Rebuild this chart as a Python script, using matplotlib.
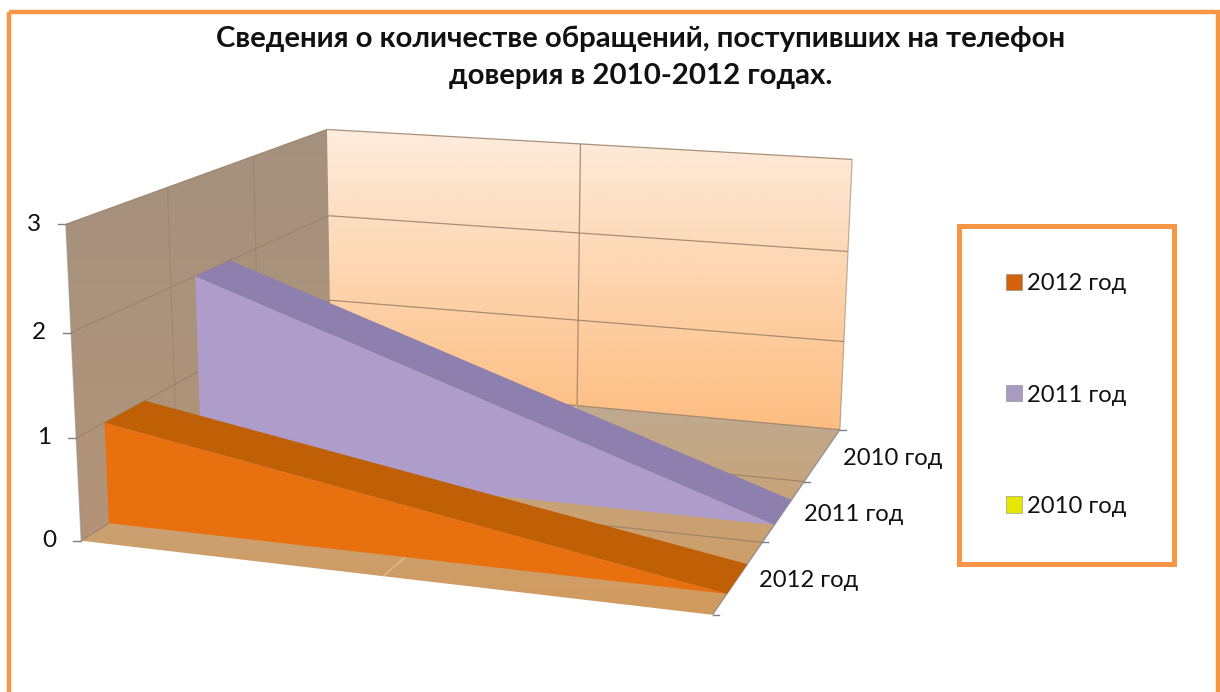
import numpy as np
import matplotlib
matplotlib.use("Agg")
import matplotlib.pyplot as plt
from matplotlib.patches import Polygon, Patch, Rectangle
from matplotlib.colors import LinearSegmentedColormap

title = "Сведения о количестве обращений, поступивших на телефон\nдоверия в 2010-2012 годах."
series_names = ["2012 год", "2011 год", "2010 год"]
values_2012 = [1, 0]
values_2011 = [2, 0]
values_2010 = [0, 0]
z_ticks = [0, 1, 2, 3]
legend_order = ["2012 год", "2011 год", "2010 год"]

front_colors = ["#E8700F", "#AE9CCA", "#E8E800"]
top_colors = ["#BF5F06", "#8E80AE", "#B8B800"]
legend_colors = ["#D2620C", "#A99BC0", "#E6E600"]
frame_color = "#F79646"
grid_color = "#9A8068"

# how much of its depth slot each slab takes
slab_start = 0.27
slab_end = 0.68

W, H = 1220, 692
plt.rcParams["font.family"] = ["Lato", "DejaVu Sans"]

# box points read off the canvas, used to fit the camera of the 3d view
# (x along the front, y going back, z up)
box = np.array([[0, 0, 0], [0, 0, 3], [0, 1, 0], [0, 1, 3], [1, 1, 0], [1, 1, 3], [1, 0, 0],
                [0.5, 1, 0], [0.5, 1, 3], [0.5, 0, 0], [1, 1 / 3, 0], [1, 2 / 3, 0],
                [0, 1 / 3, 3], [0, 2 / 3, 3]], float)
canvas = np.array([[78, 538], [65, 225], [331, 383], [329, 130], [838, 430], [853, 159], [708, 616],
                   [577, 407], [578, 142], [390, 577], [763, 542], [807, 481],
                   [168, 188], [253, 157]], float)


def fit_camera():
    rows = []
    rhs = []
    for (x, y, z), (u, v) in zip(box, canvas):
        rows.append([x, y, z, 1, 0, 0, 0, 0, -u * x, -u * y, -u * z])
        rhs.append(u)
        rows.append([0, 0, 0, 0, x, y, z, 1, -v * x, -v * y, -v * z])
        rhs.append(v)
    p = np.linalg.lstsq(np.array(rows), np.array(rhs), rcond=None)[0]
    return np.append(p, 1).reshape(3, 4)


cam = fit_camera()


def proj(x, y, z):
    q = cam @ np.array([x, y, z, 1.0])
    return q[0] / q[2], q[1] / q[2]


def poly(points):
    return [proj(*p) for p in points]


def line3(ax, a, b, color=grid_color, lw=0.9, alpha=0.85):
    (x0, y0), (x1, y1) = proj(*a), proj(*b)
    ax.plot([x0, x1], [y0, y1], color=color, lw=lw, alpha=alpha, solid_capstyle="butt", zorder=3)


def gradient(ax, points, top, bottom, zorder=2):
    pts = np.array(poly(points))
    cmap = LinearSegmentedColormap.from_list("g", [top, bottom])
    y0, y1 = pts[:, 1].min(), pts[:, 1].max()
    im = ax.imshow(np.linspace(0, 1, 200).reshape(-1, 1), cmap=cmap, aspect="auto",
                   extent=[pts[:, 0].min(), pts[:, 0].max(), y1, y0], zorder=zorder)
    clip = Polygon(pts, closed=True, transform=ax.transData)
    im.set_clip_path(clip)


fig = plt.figure(figsize=(W / 100, H / 100), dpi=100)
ax = fig.add_axes([0, 0, 1, 1])

# walls and floor
gradient(ax, [(0, 1, 0), (1, 1, 0), (1, 1, 3), (0, 1, 3)], "#FDECDD", "#FDBD80")
gradient(ax, [(0, 0, 0), (0, 1, 0), (0, 1, 3), (0, 0, 3)], "#A4917E", "#B49478")
gradient(ax, [(0, 0, 0), (1, 0, 0), (1, 1, 0), (0, 1, 0)], "#BDAC96", "#D29A5C")

# gridlines
for z in z_ticks:
    line3(ax, (0, 0, z), (0, 1, z))
    line3(ax, (0, 1, z), (1, 1, z))
for y in [1 / 3, 2 / 3]:
    line3(ax, (0, y, 0), (0, y, 3), alpha=0.5)
    line3(ax, (0, y, 0), (1, y, 0))
line3(ax, (0.5, 1, 0), (0.5, 1, 3))
line3(ax, (0.5, 0, 0), (0.5, 1, 0), color="#E0C8A8")
line3(ax, (1, 1, 0), (1, 1, 3), alpha=0.6)
line3(ax, (1, 0, 0), (1, 1, 0), color="#808890")
line3(ax, (0, 0, 0), (0, 0, 3), color="#909090", alpha=0.6)

# series, back to front
all_values = [values_2012, values_2011, values_2010]
for i in [2, 1, 0]:
    v = all_values[i]
    if max(v) == 0:
        continue
    y0 = (i + slab_start) / 3
    y1 = (i + slab_end) / 3
    front = poly([(0, y0, 0), (1, y0, v[1]), (0, y0, v[0])])
    top = poly([(0, y0, v[0]), (1, y0, v[1]), (1, y1, v[1]), (0, y1, v[0])])
    ax.add_patch(Polygon(top, closed=True, fc=top_colors[i], ec="none", zorder=4 + (2 - i)))
    ax.add_patch(Polygon(front, closed=True, fc=front_colors[i], ec="none", zorder=4 + (2 - i)))

# value axis
for z in z_ticks:
    u, v = proj(0, 0, z)
    ax.plot([u - 8, u], [v, v], color="#808080", lw=1.0, zorder=3)
    ax.text(u - 25, v, str(z), ha="right", va="center", fontsize=17.5, color="#111111")

# depth axis
for i in range(4):
    u, v = proj(1, i / 3, 0)
    ax.plot([u, u + 6], [v, v], color="#808080", lw=1.0, zorder=3)
for i, name in enumerate(series_names):
    u, v = proj(1, (i + 0.5) / 3, 0)
    ax.text(u + 20, v + 4, name, ha="left", va="center", fontsize=17.1, color="#111111")

ax.text(641, 57, title, ha="center", va="center", fontsize=21.2, fontweight="bold",
        color="#111111", linespacing=1.53)

# outer frame runs off the bottom of the picture
ax.add_patch(Rectangle((8.5, 11.5), 1209.5, 700, fc="none", ec=frame_color, lw=3.2, zorder=1))

handles = [Patch(fc=legend_colors[i], ec="#888888", lw=0.4) for i in range(3)]
leg = ax.legend(handles, legend_order, loc="center", bbox_to_anchor=(1066.5, 395),
                bbox_transform=ax.transData, fontsize=17.1, frameon=True, fancybox=False,
                edgecolor=frame_color, framealpha=1, borderpad=2.0, labelspacing=3.8,
                handlelength=0.67, handleheight=0.67, handletextpad=0.2)
leg.get_frame().set_linewidth(3.6)
for t in leg.get_texts():
    t.set_color("#111111")

ax.set_xlim(0, W)
ax.set_ylim(H, 0)
ax.axis("off")
fig.savefig("out.png", dpi=100, facecolor="white")
